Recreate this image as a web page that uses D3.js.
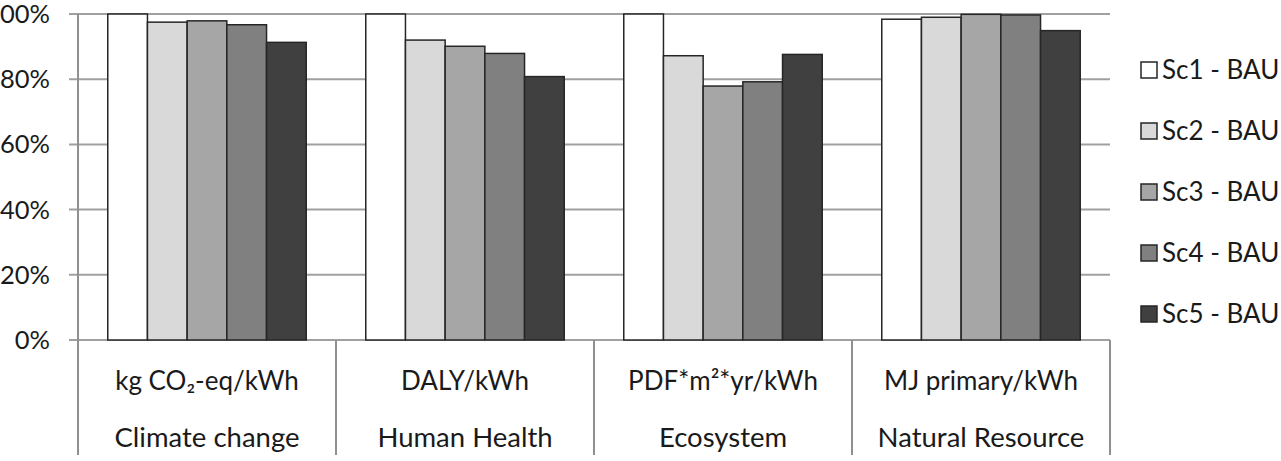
<!DOCTYPE html>
<html><head><meta charset="utf-8">
<script src="https://cdn.jsdelivr.net/npm/d3@7"></script>
<style>body{margin:0;background:#fff}svg{display:block}text{font-family:Lato,"Open Sans",sans-serif;fill:#1a1a1a}</style>
</head><body><svg id="c" width="1281" height="461"></svg>
<script>
const categories = ["Climate change","Human Health","Ecosystem","Natural Resource"];
const units = ["kg CO\u2082-eq/kWh","DALY/kWh","PDF*m\u00b2*yr/kWh","MJ primary/kWh"];
const series = ["Sc1 - BAU","Sc2 - BAU","Sc3 - BAU","Sc4 - BAU","Sc5 - BAU"];
const sc1 = [100, 100, 100, 98.4];
const sc2 = [97.5, 92.0, 87.2, 99.0];
const sc3 = [97.9, 90.1, 77.9, 99.9];
const sc4 = [96.7, 87.9, 79.2, 99.7];
const sc5 = [91.3, 80.8, 87.6, 94.9];
const yTicks = [0, 20, 40, 60, 80, 100];
const colors = ["#ffffff","#d9d9d9","#a6a6a6","#808080","#404040"];

const values = [sc1, sc2, sc3, sc4, sc5];
const svg = d3.select("#c");
const L = 78, R = 1110, T = 14, B = 340, FS = 26;
const x0 = d3.scaleBand().domain(categories).range([L, R]).paddingInner(0).paddingOuter(0);
const x1 = d3.scaleBand().domain(series).range([0, x0.bandwidth()]).paddingOuter(0.75).paddingInner(0);
const y = d3.scaleLinear().domain([0, 100]).range([B, T]);

// gridlines
svg.append("g").selectAll("line").data(yTicks).join("line")
  .attr("x1", L - 9).attr("x2", R).attr("y1", d => y(d)).attr("y2", d => y(d))
  .attr("stroke", "#a0a0a0").attr("stroke-width", 2);

// y labels
svg.append("g").selectAll("text").data(yTicks).join("text")
  .attr("x", 50).attr("y", d => y(d)).attr("dy", "0.35em").attr("text-anchor", "end")
  .attr("font-size", 25.5).text(d => d + "%");

// bars
const g = svg.append("g");
categories.forEach((c, ci) => {
  series.forEach((s, si) => {
    g.append("rect")
      .attr("x", x0(c) + x1(s)).attr("width", x1.bandwidth())
      .attr("y", y(values[si][ci])).attr("height", y(0) - y(values[si][ci]))
      .attr("fill", colors[si]).attr("stroke", "#262626").attr("stroke-width", 1.5);
  });
});

// axis lines
svg.append("line").attr("x1", L).attr("x2", L).attr("y1", T).attr("y2", 455)
  .attr("stroke", "#909090").attr("stroke-width", 2);
svg.append("g").selectAll("line").data(categories).join("line")
  .attr("x1", d => x0(d) + x0.bandwidth()).attr("x2", d => x0(d) + x0.bandwidth())
  .attr("y1", B).attr("y2", 455).attr("stroke", "#909090").attr("stroke-width", 2);

// category labels
svg.append("g").selectAll("text").data(units).join("text")
  .attr("x", (d, i) => x0(categories[i]) + x0.bandwidth() / 2).attr("y", 381).attr("dy", "0.35em")
  .attr("text-anchor", "middle").attr("font-size", FS).text(d => d);
svg.append("g").selectAll("text").data(categories).join("text")
  .attr("x", d => x0(d) + x0.bandwidth() / 2).attr("y", 437).attr("dy", "0.35em")
  .attr("text-anchor", "middle").attr("font-size", 27.5).text(d => d);

// legend
const lg = svg.append("g").selectAll("g").data(series).join("g")
  .attr("transform", (d, i) => `translate(1141, ${70 + i * 61})`);
lg.append("rect").attr("x", 0).attr("y", -8).attr("width", 16).attr("height", 16)
  .attr("fill", (d, i) => colors[i]).attr("stroke", "#262626").attr("stroke-width", 1.5);
lg.append("text").attr("x", 21).attr("y", 0).attr("dy", "0.35em").attr("font-size", FS).text(d => d);
</script></body></html>
